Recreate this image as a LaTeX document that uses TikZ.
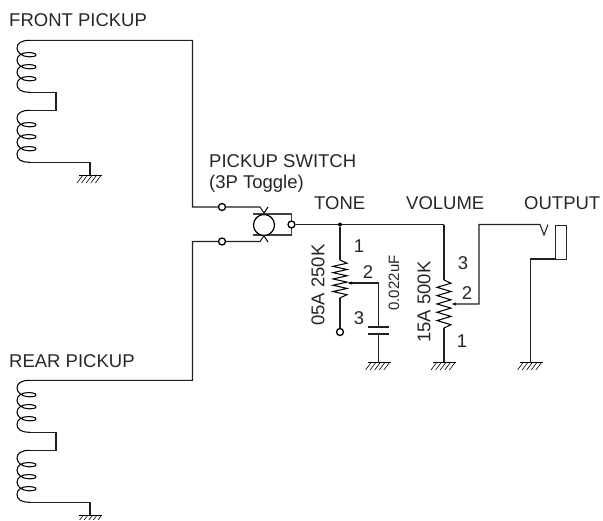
\documentclass[tikz,border=0pt]{standalone}
\usepackage{fontspec}
\setmainfont{Liberation Sans}
\tikzset{
  x=1pt,y=-1pt,
  wire/.style={draw=black!88,line width=1.05pt},
  lbl/.style={inner sep=0pt,font=\fontsize{18.5}{18.5}\selectfont,text=black!85},
  lbls/.style={inner sep=0pt,font=\fontsize{15}{15}\selectfont,text=black!85},
  term/.style={circle,draw=black,line width=1.3pt,fill=white,minimum size=7pt,inner sep=0pt},
  jdot/.style={circle,fill=black,minimum size=4pt,inner sep=0pt},
  coil/.pic={
    \draw[line width=1.05pt,line join=round] (30,0)
      .. controls (21,0) and (17,3) .. (17,8)
      .. controls (17,12) and (22,16.5) .. (29,16.5)
      .. controls (33,16.5) and (36,16) .. (36,14.5)
      .. controls (36,13) and (32,12.3) .. (28,12.3)
      .. controls (22,12.3) and (17,15) .. (17,20)
      .. controls (17,24) and (22,28.5) .. (29,28.5)
      .. controls (33,28.5) and (36,28) .. (36,26.5)
      .. controls (36,25) and (32,24.3) .. (28,24.3)
      .. controls (22,24.3) and (17,27) .. (17,32)
      .. controls (17,36) and (22,40.5) .. (29,40.5)
      .. controls (33,40.5) and (36,40) .. (36,38.5)
      .. controls (36,37) and (32,36.3) .. (28,36.3)
      .. controls (22,36.3) and (17,39) .. (17,44)
      .. controls (17,49) and (21,52) .. (30,52);
  },
  gnd/.pic={
    \draw[line width=1pt] (-11,0) -- (12,0);
    \foreach \k in {-7,-2.4,2.2,6.8,11.4}{\draw[line width=0.6pt] (\k,0) -- (\k-6,8);}
  },
  zig/.pic={
    \draw[line width=1.05pt,line join=miter] (0,0) -- (7,3.2)
      \foreach \i in {1,...,5}{ -- (-7,3.2+\i*\pgfkeysvalueof{/tikz/zigh}-\pgfkeysvalueof{/tikz/zigh}/2) -- (7,3.2+\i*\pgfkeysvalueof{/tikz/zigh})} -- (0,3.2+5*\pgfkeysvalueof{/tikz/zigh}+3.2);
  },
  zigh/.initial=6
}
\begin{document}
\begin{tikzpicture}
\useasboundingbox (0,0) rectangle (603,520);
\clip (0,0) rectangle (603,519);
% pickups
\pic at (0,40.3) {coil};
\pic at (0,110.3) {coil};
\pic at (0,380.3) {coil};
\pic at (0,450.3) {coil};
\coordinate (f1) at (30,40.3);
\coordinate (f2) at (30,92.3);
\coordinate (f3) at (30,110.3);
\coordinate (f4) at (30,162.3);
\coordinate (r1) at (30,380.3);
\coordinate (r2) at (30,432.3);
\coordinate (r3) at (30,450.3);
\coordinate (r4) at (30,502.3);
\coordinate (gf) at (90,175);
\coordinate (gr) at (90,515.5);
\draw[wire] (f2) -| (56,110.3) -- (f3);
\draw[wire] (r2) -| (56,450.3) -- (r3);
\draw[wire] (f4) -| (gf);
\draw[wire] (r4) -| (gr);
\pic at (gf) {gnd};
\pic at (gr) {gnd};
% switch
\coordinate (ca) at (260,207);
\coordinate (cb) at (260,241.5);
\coordinate (ba) at (253,214);
\coordinate (bb) at (253,235);
\draw[wire] (f1) -| (192.5,207) -- (ca) -- (268,219);
\draw[wire] (r1) -| (192.5,241.5) -- (cb) -- (268,230);
\draw[line width=1pt] (260,219) -- (268,207);
\draw[line width=1pt] (260,230) -- (268,242);
\draw[draw=black!75,line width=1.05pt] (ba) -| (291.5,224.5);
\draw[draw=black!75,line width=1.05pt] (bb) -| (291.5,224.5);
\node[term] (sa) at (222,207) {};
\node[term] (sb) at (222,241.5) {};
\node[term] (so) at (291.5,224.5) {};
\node[circle,draw=black,line width=1.2pt,fill=white,minimum size=21pt,inner sep=0pt] (tog) at (264,225) {};
% tone
\node[jdot] (jt) at (340,224.5) {};
\coordinate (vt) at (444,224.5);
\coordinate (tz) at (340,260);
\coordinate (tzb) at (340,298);
\coordinate (cp1) at (378.5,327);
\coordinate (cp2) at (378.5,334);
\coordinate (gt) at (378.5,362);
\draw[wire] (so) -- (jt) -- (vt);
\draw[wire] (jt) -- (tz);
\draw[wire] (tzb) -- (340,328.5);
\node[term] (tb) at (340,332) {};
\pic[zigh=6.3] at (tz) {zig};
\coordinate (wt) at (349,283);
\draw[wire] (wt) -| (cp1);
\fill (348,283) -- (352,281.5) -- (352,284.5) -- cycle;
\draw[wire] (368,327) -- (389,327);
\draw[wire] (368,334) -- (389,334);
\draw[wire] (cp2) -- (gt);
\pic at (gt) {gnd};
% volume
\coordinate (vz) at (444,280);
\coordinate (vzb) at (444,328);
\coordinate (gv) at (444,362);
\draw[wire] (vt) -- (vz);
\pic[zigh=8.3] at (vz) {zig};
\draw[wire] (vzb) -- (gv);
\pic at (gv) {gnd};
\coordinate (wv) at (453,304);
\fill (452,304) -- (456,302.5) -- (456,305.5) -- cycle;
\coordinate (jk) at (540,224.5);
\draw[wire] (wv) -| (479,224.5) -- (jk) -- (544,235) -- (548,224.5);
% jack
\node[draw=black!85,line width=1.05pt,minimum width=11pt,minimum height=34.5pt,inner sep=0pt,anchor=north west] (jack) at (555,224.5) {};
\coordinate (gj) at (530.5,362);
\draw[wire] (gj) |- (555,259);
\pic at (gj) {gnd};
% labels
\node[lbl,anchor=west] (t1) at (9,20.3) {FRONT PICKUP};
\node[lbl,anchor=west] (t2) at (9,361.5) {REAR PICKUP};
\node[lbl,anchor=west] (t3) at (209,161) {PICKUP SWITCH};
\node[lbl,anchor=west] (t4) at (209,184) {(3P Toggle)};
\node[lbl,anchor=west] (t5) at (314,203) {TONE};
\node[lbl,anchor=west] (t6) at (406,203) {VOLUME};
\node[lbl,anchor=west] (t7) at (524,203) {OUTPUT};
\node[lbl,rotate=90] (t8) at (318,285) {05A 250K};
\node[lbl,rotate=90] (t9) at (424,302) {15A 500K};
\node[lbls,rotate=90] (t10) at (394,283) {0.022uF};
\node[lbl] (n1) at (359,246) {1};
\node[lbl] (n2) at (368,272) {2};
\node[lbl] (n3) at (359,318) {3};
\node[lbl] (n4) at (463,263) {3};
\node[lbl] (n5) at (467,293) {2};
\node[lbl] (n6) at (462,341) {1};
\end{tikzpicture}
\end{document}
